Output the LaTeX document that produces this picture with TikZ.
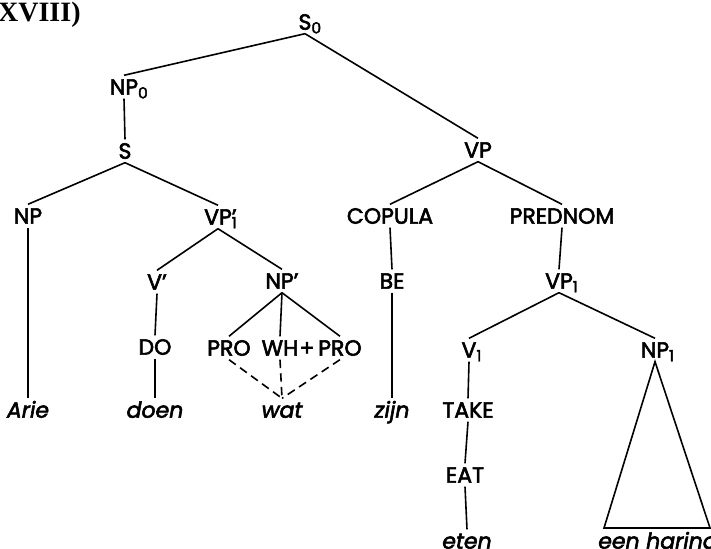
\documentclass[tikz,border=0pt]{standalone}
\usepackage{fontspec}
\setmainfont{Poppins}[RawFeature={embolden=2.6}]
\newfontfamily\headfont{Liberation Serif}
\usepackage{tikz}
\usetikzlibrary{positioning}
\newcommand{\lsub}[1]{\rlap{\smash{\textsubscript{#1}}}}
\newcommand{\lprimesub}[1]{\rlap{’}\rlap{\smash{\textsubscript{#1}}}}

\begin{document}
\begin{tikzpicture}[
    x=0.5pt,y=-0.5pt,
    cat/.style={inner sep=2pt,outer sep=0pt,text height=7.7pt,text depth=0pt,font=\fontsize{11}{12}\selectfont},
    word/.style={cat,font=\fontsize{11}{12}\selectfont\itshape},
    branch/.style={line width=0.8pt},
    trace/.style={branch,dash pattern=on 4.2pt off 2.6pt}
]
\useasboundingbox (0,0) rectangle (711,549);
\node[anchor=base east,inner sep=0pt,font=\headfont\bfseries\fontsize{14}{16}\selectfont] (num) at (81,22) {(XVIII)};
\node[cat] (s0) at (305,22) {S\lsub{0}};
\node[cat] (np0) at (124,87) {NP\lsub{0}};
\node[cat] (s) at (125,151) {S};
\node[cat] (vp) at (478,150) {VP};
\node[cat] (np) at (28,216) {NP};
\node[cat] (vpa) at (218,217) {VP\lprimesub{1}};
\node[cat] (copula) at (390,216) {COPULA};
\node[cat] (prednom) at (562,216) {PREDNOM};
\node[cat] (vb) at (157,282) {V’};
\node[cat] (npb) at (282,281) {NP’};
\node[cat] (be) at (392,281) {BE};
\node[cat] (vp1) at (559,281) {VP\lsub{1}};
\node[cat] (do) at (155,347) {DO};
\node[cat] (pro) at (229,348) {PRO};
\node[cat] (wh) at (280,348) {WH};
\node[cat,inner sep=0pt] (plus) at (307,348) {+};
\node[cat] (proc) at (340,348) {PRO};
\node[cat] (v1) at (469,350) {V\lsub{1}};
\node[cat] (np1) at (655,350) {NP\lsub{1}};
\node[cat] (take) at (468,410) {TAKE};
\node[cat] (eat) at (465,475) {EAT};
\node[word] (arie) at (28,410) {Arie};
\node[word] (doen) at (155,410) {doen};
\node[word] (wat) at (282,410) {wat};
\node[word] (zijn) at (392,410) {zijn};
\node[word] (eten) at (467,541) {eten};
\node[word] (haring) at (658,541) {een haring};
\coordinate (tl) at (604,528);
\coordinate (tr) at (710,528);
\draw[branch] (s0.south) -- (np0.north);
\draw[branch] (s0.south) -- (vp.north);
\draw[branch] (np0.south) -- (s.north);
\draw[branch] (s.south) -- (np.north);
\draw[branch] (s.south) -- (vpa.north);
\draw[branch] (np.south) -- (arie.north);
\draw[branch] (vpa.south) -- (vb.north);
\draw[branch] (vpa.south) -- (npb.north);
\draw[branch] (vb.south) -- (do.north);
\draw[branch] (do.south) -- (doen.north);
\draw[branch] (npb.south) -- (pro.north);
\draw[branch] (npb.south) -- (wh.north);
\draw[branch] (npb.south) -- (proc.north);
\draw[trace] (pro.south) -- (wat.north);
\draw[trace] (wh.south) -- (wat.north);
\draw[trace] (proc.south) -- (wat.north);
\draw[branch] (vp.south) -- (copula.north);
\draw[branch] (vp.south) -- (prednom.north);
\draw[branch] (copula.south) -- (be.north);
\draw[branch] (be.south) -- (zijn.north);
\draw[branch] (prednom.south) -- (vp1.north);
\draw[branch] (vp1.south) -- (v1.north);
\draw[branch] (vp1.south) -- (np1.north);
\draw[branch] (v1.south) -- (take.north);
\draw[branch] (take.south) -- (eat.north);
\draw[branch] (eat.south) -- (eten.north);
\draw[branch] (np1.south) -- (tl) -- (tr) -- cycle;
\end{tikzpicture}
\end{document}
